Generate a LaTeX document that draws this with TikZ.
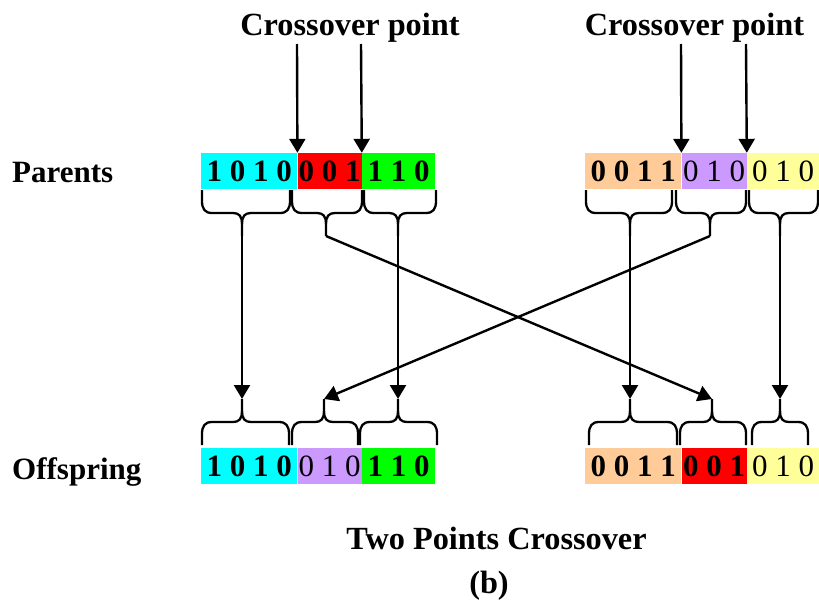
\documentclass[tikz,border=0pt]{standalone}
\usepackage{fontspec}
\setmainfont{Liberation Serif}
\usetikzlibrary{arrows.meta}

\definecolor{genecyan}{HTML}{00FFFF}
\definecolor{genered}{HTML}{FF0000}
\definecolor{genegreen}{HTML}{00FF00}
\definecolor{genepeach}{HTML}{FFCC99}
\definecolor{genepurple}{HTML}{CC99FF}
\definecolor{geneyellow}{HTML}{FFFF99}

% Curly brace: #1 left x, #2 stem x, #3 right x, #4 y of the open ends,
% #5 = 1 for a stem pointing down, -1 for a stem pointing up, #6 name of the stem tip
\newcommand\curlybrace[6]{%
  \begin{scope}[shift={(0,#4)},yscale=#5]
    \draw[brace line] (#1,0) -- (#1,11) .. controls (#1,19) and (#1+3,23) .. (#1+10,23)
      -- (#2-9,23) .. controls (#2-3,23) and (#2,26) .. (#2,34) -- (#2,46);
    \draw[brace line] (#3,0) -- (#3,11) .. controls (#3,19) and (#3-3,23) .. (#3-10,23)
      -- (#2+9,23) .. controls (#2+3,23) and (#2,26) .. (#2,34);
    \coordinate (#6) at (#2,46);
  \end{scope}}

\tikzset{
  every node/.style={font=\fontsize{31}{37}\selectfont},
  segment/.style={draw=none, inner sep=0pt, minimum height=36pt, anchor=west},
  title text/.style={font=\fontsize{31}{37}\selectfont\bfseries, inner sep=0pt},
  marker text/.style={font=\fontsize{32.3}{38}\selectfont\bfseries, inner sep=0pt},
  caption text/.style={font=\fontsize{32.3}{38}\selectfont\bfseries, inner sep=0pt},
  brace line/.style={line width=2.3pt, line join=round, line cap=butt},
  flow/.style={line width=2.4pt, -{Triangle[width=16pt,length=14pt]}},
}

\begin{document}
\begin{tikzpicture}[x=1pt,y=-1pt]
  \useasboundingbox (0,0) rectangle (819,602);

  % row labels
  \node[title text, anchor=base west] (parents) at (12,182) {Parents};
  \node[title text, anchor=base west] (offspring) at (12,479) {Offspring};

  % parent chromosomes
  \node[segment, fill=genecyan, minimum width=96pt] (pa1) at (201,171) {\bfseries 1 0 1 0};
  \node[segment, fill=genered, minimum width=64pt] (pa2) at (pa1.east) {\bfseries 0 0 1};
  \node[segment, fill=genegreen, minimum width=73pt] (pa3) at (pa2.east) {\bfseries 1 1 0};

  \node[segment, fill=genepeach, minimum width=96pt] (pb1) at (585,171) {\bfseries 0 0 1 1};
  \node[segment, fill=genepurple, minimum width=65pt] (pb2) at (pb1.east) {0 1 0};
  \node[segment, fill=geneyellow, minimum width=72pt] (pb3) at (pb2.east) {0 1 0};

  % offspring chromosomes
  \node[segment, fill=genecyan, minimum width=96pt] (oa1) at (201,466) {\bfseries 1 0 1 0};
  \node[segment, fill=genepurple, minimum width=64pt] (oa2) at (oa1.east) {0 1 0};
  \node[segment, fill=genegreen, minimum width=73pt] (oa3) at (oa2.east) {\bfseries 1 1 0};

  \node[segment, fill=genepeach, minimum width=96pt] (ob1) at (585,466) {\bfseries 0 0 1 1};
  \node[segment, fill=genered, minimum width=65pt] (ob2) at (ob1.east) {\bfseries 0 0 1};
  \node[segment, fill=geneyellow, minimum width=72pt] (ob3) at (ob2.east) {0 1 0};

  % crossover point markers
  \node[marker text, anchor=base] (cpa) at (350,36) {Crossover point};
  \node[marker text, anchor=base] (cpb) at (694.5,36) {Crossover point};
  \coordinate (cpa1) at (297,44);
  \coordinate (cpa2) at (361,44);
  \coordinate (cpb1) at (681,44);
  \coordinate (cpb2) at (746,44);
  \draw[flow] (cpa1) -- (pa1.north east);
  \draw[flow] (cpa2) -- (pa2.north east);
  \draw[flow] (cpb1) -- (pb1.north east);
  \draw[flow] (cpb2) -- (pb2.north east);

  % braces under the parents
  \curlybrace{202}{242}{290}{190}{1}{bpa1}
  \curlybrace{292}{326}{362}{190}{1}{bpa2}
  \curlybrace{364}{398}{436}{190}{1}{bpa3}
  \curlybrace{586}{630}{672}{190}{1}{bpb1}
  \curlybrace{676}{710}{746}{190}{1}{bpb2}
  \curlybrace{749}{780}{818}{190}{1}{bpb3}

  % braces over the offspring
  \curlybrace{202}{242}{289}{445}{-1}{boa1}
  \curlybrace{292}{324}{358}{445}{-1}{boa2}
  \curlybrace{360}{398}{437}{445}{-1}{boa3}
  \curlybrace{589}{630}{677}{445}{-1}{bob1}
  \curlybrace{680}{712}{746}{445}{-1}{bob2}
  \curlybrace{752}{780}{808}{445}{-1}{bob3}

  % gene segments passed on
  \draw[flow] (bpa1) -- (boa1);
  \draw[flow] (bpa3) -- (boa3);
  \draw[flow] (bpb1) -- (bob1);
  \draw[flow] (bpb3) -- (bob3);
  \draw[flow] (bpa2) -- (bob2);
  \draw[flow] (bpb2) -- (boa2);

  % caption
  \node[caption text, anchor=base] (caption) at (496.5,549) {Two Points Crossover};
  \node[caption text, anchor=base] (sublabel) at (489,593) {(b)};
\end{tikzpicture}
\end{document}
